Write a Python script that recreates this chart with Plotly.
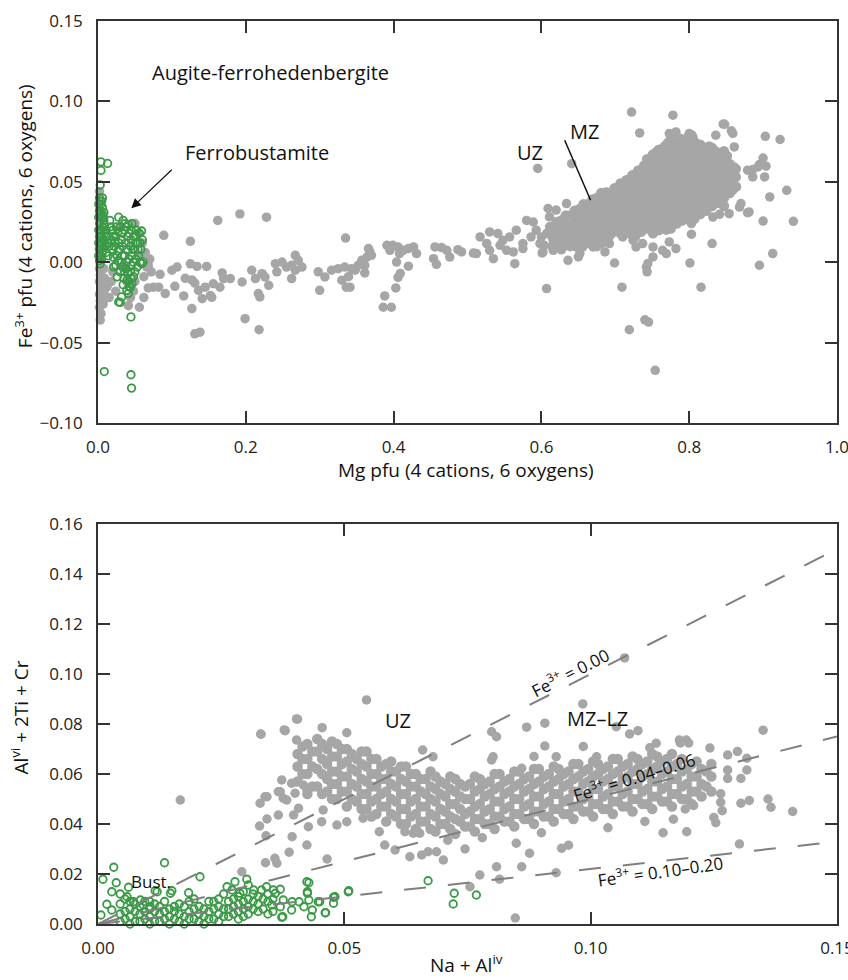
import plotly.graph_objects as go

# ---------------- DATA ----------------
# Top panel: Mg pfu vs Fe3+ pfu
top_grey_pts = [
    (0.002, 0.044), (0.003, 0.038), (0.002, 0.032), (0.004, 0.026), (0.002, 0.020), (0.003, 0.014),
    (0.002, 0.008), (0.004, 0.002), (0.002, -0.004), (0.003, -0.008), (0.002, -0.012), (0.004, -0.016),
    (0.002, -0.020), (0.003, -0.024), (0.002, -0.028), (0.004, -0.032), (0.003, -0.036), (0.008, -0.004),
    (0.009, -0.010), (0.010, -0.016), (0.012, -0.015), (0.008, -0.020), (0.007, -0.026), (0.006, 0.030),
    (0.007, 0.020), (0.008, 0.010), (0.0076, -0.0195), (0.012, -0.0153),
    (0.020, -0.006), (0.018, -0.012), (0.024, -0.018), (0.015, -0.022), (0.030, 0.022), (0.035, -0.002),
    (0.050, 0.024), (0.055, 0.018), (0.060, 0.012), (0.064, 0.006), (0.066, -0.003), (0.062, -0.009),
    (0.068, -0.002), (0.050, -0.012), (0.044, -0.022), (0.041, -0.027), (0.039, -0.012), (0.048, -0.018),
    (0.058, 0.004), (0.070, 0.002), (0.072, -0.006), (0.068, -0.016), (0.062, -0.022), (0.056, -0.028),
    (0.084, -0.0075), (0.089, 0.0167), (0.100, -0.005), (0.107, -0.003), (0.075, -0.0155), (0.082, -0.0155),
    (0.091, -0.0195), (0.104, -0.015), (0.116, -0.021), (0.118, -0.010), (0.127, -0.011), (0.131, -0.013),
    (0.125, 0.013), (0.125, -0.001), (0.134, -0.0026), (0.147, -0.0026), (0.136, -0.0175), (0.141, -0.0227),
    (0.152, -0.0207), (0.154, -0.0218), (0.145, -0.0155), (0.156, -0.0134), (0.162, 0.026), (0.168, -0.0067),
    (0.170, -0.0102), (0.179, -0.0102), (0.165, -0.0155), (0.127, -0.0288), (0.131, -0.0445), (0.138, -0.0435),
    (0.192, 0.030), (0.199, -0.0351), (0.218, -0.042), (0.195, -0.0123), (0.208, -0.005), (0.213, -0.0102),
    (0.222, -0.0071), (0.226, -0.0092), (0.231, -0.0144), (0.217, -0.0195), (0.219, -0.0216), (0.228, 0.028),
    (0.240, -0.0009), (0.249, 0.0001), (0.255, -0.003), (0.262, -0.0019), (0.267, 0.0043), (0.271, 0.0012),
    (0.242, -0.006), (0.262, -0.0102), (0.267, -0.005), (0.276, -0.003), (0.298, -0.006), (0.307, -0.0092),
    (0.316, -0.005), (0.325, -0.004), (0.334, -0.003), (0.343, -0.004), (0.339, -0.009), (0.330, -0.0112),
    (0.300, -0.0175), (0.336, -0.0155), (0.335, 0.015),
    (0.341, -0.0155), (0.348, -0.005), (0.352, -0.002), (0.357, 0.0012), (0.361, -0.002), (0.364, 0.0032),
    (0.368, 0.0064), (0.370, 0.0043), (0.366, 0.0085), (0.361, -0.0067), (0.391, 0.0105), (0.395, 0.0074),
    (0.399, 0.0105), (0.406, 0.0095), (0.413, 0.0074), (0.420, 0.0085), (0.427, 0.0095), (0.431, 0.0054),
    (0.408, 0.0054), (0.404, 0.0001), (0.420, -0.0025), (0.409, -0.007), (0.406, -0.0095), (0.403, -0.016),
    (0.388, -0.021), (0.386, -0.028), (0.397, -0.028),
    (0.456, 0.0095), (0.465, 0.0091), (0.472, 0.0074), (0.476, 0.0032), (0.454, 0.0022), (0.458, -0.0013),
    (0.487, 0.0078), (0.492, 0.0064), (0.508, 0.0057), (0.512, 0.0054), (0.517, 0.0157), (0.530, 0.0188),
    (0.526, 0.0116), (0.530, 0.0074), (0.535, 0.0022), (0.541, 0.0178), (0.544, 0.0105), (0.548, 0.0136),
    (0.557, 0.0157), (0.566, 0.0199), (0.553, 0.0074), (0.562, 0.0064), (0.564, -0.0009), (0.575, 0.0116),
    (0.580, 0.026), (0.589, 0.025), (0.586, 0.0157), (0.575, 0.0085),
    (0.593, 0.0199), (0.600, 0.0157), (0.607, 0.0178), (0.611, 0.022), (0.616, 0.0136), (0.620, 0.0199),
    (0.625, 0.0157), (0.629, 0.024), (0.634, 0.0178), (0.638, 0.0116), (0.611, 0.0282), (0.609, 0.0334),
    (0.620, 0.0324), (0.634, 0.0365), (0.602, 0.0064), (0.616, 0.0074), (0.629, 0.0095), (0.636, 0.0012),
    (0.652, 0.0054), (0.656, 0.0199), (0.652, 0.0292), (0.663, 0.0282), (0.674, 0.024), (0.683, 0.0303),
    (0.688, 0.0365), (0.670, 0.0386), (0.674, 0.0157), (0.686, 0.0064), (0.607, -0.0164), (0.598, 0.0116),
    (0.604, 0.0105), (0.618, 0.0168), (0.622, 0.0116), (0.631, 0.0136), (0.643, 0.0147), (0.647, 0.0199),
    (0.661, 0.024), (0.665, 0.0324), (0.656, 0.0136), (0.665, 0.0178), (0.679, 0.0199), (0.683, 0.0136),
    (0.690, 0.022), (0.647, 0.0095), (0.656, 0.0095), (0.670, 0.0095), (0.681, 0.0116), (0.595, 0.0583),
    (0.641, 0.0613), (0.601, 0.0058), (0.650, 0.0033), (0.688, 0.0437), (0.699, 0.0427), (0.719, 0.0489),
    (0.731, 0.054), (0.755, 0.0673), (0.760, 0.0634),
    (0.751, 0.0095), (0.764, 0.0074), (0.773, 0.0126), (0.782, 0.0085), (0.769, 0.0054), (0.751, 0.0033),
    (0.744, -0.0008), (0.737, 0.0116), (0.728, 0.0095), (0.769, 0.0199), (0.778, 0.024), (0.787, 0.026),
    (0.803, 0.024), (0.724, 0.0199), (0.710, 0.0157), (0.724, 0.0136), (0.692, 0.0116),
    (0.722, 0.0934), (0.778, 0.0914), (0.733, 0.0804), (0.846, 0.0859), (0.857, 0.0817), (0.859, 0.0801),
    (0.903, 0.0783), (0.923, 0.0763), (0.932, 0.0447), (0.941, 0.0254), (0.909, 0.0406), (0.900, 0.0256),
    (0.913, 0.0054), (0.895, -0.0019), (0.816, -0.0155), (0.801, -0.0005), (0.831, 0.0116), (0.803, 0.0174),
    (0.709, -0.0155), (0.719, -0.042), (0.740, -0.0358), (0.745, -0.0372), (0.754, -0.0672), (0.699, -0.0005),
    (0.743, -0.006), (0.742, -0.003), (0.879, 0.0572), (0.886, 0.053), (0.893, 0.0592), (0.902, 0.053),
    (0.864, 0.0468), (0.859, 0.0447), (0.854, 0.0302), (0.832, 0.0281), (0.841, 0.0298), (0.868, 0.0343),
    (0.879, 0.0308), (0.845, 0.0385), (0.886, 0.0576), (0.895, 0.0607), (0.900, 0.0648), (0.904, 0.0597),
    (0.861, 0.0717), (0.861, 0.0592), (0.870, 0.0365), (0.881, 0.0313),
    (0.755, 0.0685), (0.782, 0.0747), (0.800, 0.080), (0.805, 0.0778), (0.823, 0.0695), (0.836, 0.079),
    (0.848, 0.0858), (0.773, 0.080), (0.782, 0.081),
]

# dense MZ cloud, read column by column: (Mg, [Fe3+ values])
top_grey_cloud = [
    (0.615, [0.010, 0.016, 0.022]),
    (0.621, [0.013, 0.019, 0.025]),
    (0.627, [0.008, 0.014, 0.020, 0.026]),
    (0.633, [0.011, 0.017, 0.023, 0.029]),
    (0.639, [0.010, 0.017, 0.023, 0.029]),
    (0.645, [0.013, 0.020, 0.026, 0.032]),
    (0.651, [0.009, 0.015, 0.021, 0.027, 0.033]),
    (0.657, [0.012, 0.018, 0.024, 0.030, 0.036]),
    (0.663, [0.012, 0.018, 0.024, 0.030, 0.036]),
    (0.669, [0.015, 0.021, 0.027, 0.033, 0.039]),
    (0.675, [0.010, 0.016, 0.022, 0.028, 0.034, 0.040]),
    (0.681, [0.013, 0.019, 0.025, 0.031, 0.037, 0.043]),
    (0.687, [0.013, 0.019, 0.025, 0.031, 0.037, 0.042]),
    (0.691, [0.016, 0.022, 0.028, 0.034, 0.040]),
    (0.695, [0.018, 0.024, 0.031, 0.037, 0.043]),
    (0.699, [0.021, 0.027, 0.034, 0.040, 0.046]),
    (0.703, [0.021, 0.027, 0.034, 0.040, 0.046]),
    (0.707, [0.018, 0.024, 0.031, 0.037, 0.043, 0.049]),
    (0.711, [0.017, 0.023, 0.029, 0.036, 0.042, 0.048]),
    (0.715, [0.020, 0.026, 0.032, 0.039, 0.045, 0.051]),
    (0.719, [0.020, 0.026, 0.032, 0.039, 0.045, 0.051]),
    (0.723, [0.017, 0.023, 0.029, 0.036, 0.042, 0.048, 0.054]),
    (0.727, [0.016, 0.022, 0.028, 0.035, 0.041, 0.047, 0.054]),
    (0.731, [0.019, 0.025, 0.032, 0.038, 0.044, 0.051, 0.057]),
    (0.735, [0.019, 0.025, 0.031, 0.038, 0.044, 0.050, 0.057]),
    (0.739, [0.022, 0.028, 0.034, 0.041, 0.047, 0.053, 0.060]),
    (0.743, [0.021, 0.027, 0.033, 0.040, 0.046, 0.052, 0.059, 0.064]),
    (0.747, [0.024, 0.030, 0.036, 0.043, 0.049, 0.056, 0.062]),
    (0.751, [0.018, 0.024, 0.030, 0.036, 0.043, 0.049, 0.055, 0.062, 0.067]),
    (0.755, [0.021, 0.027, 0.033, 0.040, 0.046, 0.052, 0.058, 0.065]),
    (0.759, [0.020, 0.026, 0.033, 0.039, 0.045, 0.052, 0.058, 0.064, 0.070]),
    (0.763, [0.023, 0.029, 0.036, 0.042, 0.048, 0.055, 0.061, 0.067]),
    (0.767, [0.023, 0.029, 0.035, 0.041, 0.048, 0.054, 0.060, 0.066, 0.072]),
    (0.771, [0.026, 0.032, 0.038, 0.045, 0.051, 0.057, 0.063, 0.069, 0.074]),
    (0.775, [0.021, 0.027, 0.033, 0.040, 0.046, 0.052, 0.058, 0.065, 0.071, 0.076]),
    (0.779, [0.024, 0.030, 0.037, 0.043, 0.049, 0.055, 0.062, 0.068, 0.074]),
    (0.783, [0.024, 0.030, 0.036, 0.043, 0.049, 0.055, 0.061, 0.067, 0.073]),
    (0.787, [0.027, 0.033, 0.040, 0.046, 0.052, 0.058, 0.064, 0.071, 0.077]),
    (0.791, [0.026, 0.032, 0.038, 0.045, 0.051, 0.057, 0.063, 0.070, 0.076]),
    (0.795, [0.029, 0.035, 0.042, 0.048, 0.054, 0.060, 0.067, 0.073]),
    (0.799, [0.028, 0.034, 0.041, 0.047, 0.053, 0.059, 0.066, 0.072, 0.078]),
    (0.803, [0.031, 0.037, 0.043, 0.049, 0.055, 0.061, 0.067, 0.073, 0.079]),
    (0.807, [0.027, 0.033, 0.039, 0.045, 0.052, 0.058, 0.064, 0.070, 0.075]),
    (0.811, [0.030, 0.036, 0.042, 0.048, 0.055, 0.061, 0.067, 0.072]),
    (0.815, [0.030, 0.036, 0.042, 0.049, 0.055, 0.061, 0.067, 0.073]),
    (0.819, [0.033, 0.039, 0.045, 0.052, 0.058, 0.064, 0.070]),
    (0.823, [0.032, 0.038, 0.044, 0.050, 0.057, 0.063, 0.069]),
    (0.827, [0.035, 0.041, 0.047, 0.053, 0.060, 0.066, 0.072]),
    (0.831, [0.035, 0.041, 0.047, 0.054, 0.060, 0.066, 0.071]),
    (0.835, [0.038, 0.044, 0.050, 0.057, 0.063, 0.069]),
    (0.839, [0.037, 0.043, 0.050, 0.056, 0.062, 0.068]),
    (0.843, [0.040, 0.046, 0.053, 0.059, 0.065]),
    (0.847, [0.035, 0.040, 0.046, 0.052, 0.059, 0.064, 0.069]),
    (0.851, [0.043, 0.049, 0.055, 0.061, 0.066]),
    (0.855, [0.043, 0.049, 0.055, 0.061]),
    (0.859, [0.046, 0.052, 0.057]),
    (0.863, [0.047, 0.053, 0.058]),
]

top_green_pts = [
    (0.004, 0.0624), (0.013, 0.0614), (0.004, 0.0571), (0.003, 0.048),
    (0.002, 0.040), (0.004, 0.036), (0.002, 0.032), (0.005, 0.028), (0.002, 0.024), (0.004, 0.020),
    (0.002, 0.016), (0.005, 0.012), (0.002, 0.008), (0.004, 0.004), (0.002, 0.001), (0.006, 0.034),
    (0.006, 0.022), (0.007, 0.014), (0.006, 0.006), (0.008, 0.026), (0.009, 0.018), (0.010, 0.010),
    (0.003, -0.001), (0.006, 0.040), (0.008, 0.031),
    (0.001, 0.036), (0.001, 0.028), (0.001, 0.020), (0.001, 0.012), (0.001, 0.004), (0.003, 0.030),
    (0.003, 0.018), (0.003, 0.010), (0.005, 0.038), (0.005, 0.016), (0.005, 0.002), (0.007, 0.029),
    (0.007, 0.009), (0.009, 0.023), (0.011, 0.020), (0.013, 0.012), (0.011, 0.006),
    (0.012, 0.016), (0.015, 0.010), (0.017, 0.022), (0.014, 0.004), (0.018, 0.014), (0.016, 0.026),
    (0.020, 0.020), (0.024, 0.016), (0.022, 0.010), (0.026, 0.004), (0.024, -0.002), (0.030, 0.022),
    (0.032, 0.014), (0.030, 0.008), (0.032, 0.000), (0.030, -0.006), (0.036, 0.020), (0.038, 0.012),
    (0.036, 0.004), (0.038, -0.004), (0.035, -0.010), (0.042, 0.018), (0.044, 0.010), (0.042, 0.002),
    (0.044, -0.006), (0.048, 0.016), (0.050, 0.008), (0.048, 0.000), (0.050, -0.006), (0.046, 0.024),
    (0.054, 0.012), (0.055, 0.004), (0.053, -0.003), (0.056, 0.018), (0.034, 0.026), (0.028, 0.012),
    (0.040, 0.016), (0.046, 0.004), (0.052, 0.020), (0.058, 0.008), (0.060, 0.014),
    (0.023, 0.013), (0.027, 0.019), (0.027, 0.007), (0.027, 0.001), (0.033, 0.018), (0.033, 0.010),
    (0.033, 0.004), (0.033, -0.003), (0.039, 0.022), (0.039, 0.008), (0.039, 0.000), (0.041, -0.007),
    (0.045, 0.014), (0.045, 0.020), (0.047, 0.008), (0.045, -0.002), (0.051, 0.012), (0.051, 0.002),
    (0.051, 0.016), (0.054, 0.008), (0.057, 0.012), (0.057, 0.000), (0.036, -0.006), (0.042, -0.012),
    (0.048, -0.009), (0.037, 0.024), (0.025, 0.022), (0.021, 0.016), (0.019, 0.008), (0.021, 0.003),
    (0.028, 0.028), (0.041, 0.0235), (0.059, 0.0194), (0.061, 0.0001), (0.059, -0.0009),
    (0.046, -0.0133), (0.044, -0.0154), (0.039, -0.0175), (0.032, -0.0216), (0.028, -0.0247),
    (0.030, -0.025), (0.041, -0.0195), (0.042, -0.0154), (0.039, -0.0112), (0.026, -0.0091),
    (0.021, -0.0029), (0.034, -0.014), (0.045, -0.010),
    (0.0085, -0.068), (0.0446, -0.070), (0.0454, -0.0783), (0.0446, -0.034),
]

# Bottom panel: Na + Al(iv) vs Al(vi) + 2Ti + Cr
bot_grey_pts = [
    (0.0167, 0.0496), (0.0331, 0.0759), (0.0378, 0.0776), (0.0403, 0.082), (0.0403, 0.0736),
    (0.0329, 0.0483), (0.0343, 0.0509), (0.0366, 0.0529), (0.0376, 0.0503), (0.0393, 0.0563),
    (0.0400, 0.0523), (0.0366, 0.0436), (0.0397, 0.0436), (0.0341, 0.0353), (0.0394, 0.0349),
    (0.0388, 0.0287), (0.0359, 0.0263), (0.0363, 0.0243), (0.0292, 0.0209), (0.0545, 0.0896),
    (0.0405, 0.0819), (0.0380, 0.0773), (0.0330, 0.0760), (0.0373, 0.0576), (0.0417, 0.0556),
    (0.0370, 0.0529), (0.0339, 0.0509), (0.0383, 0.0496), (0.0424, 0.0536), (0.0407, 0.0463),
    (0.0427, 0.0389), (0.0454, 0.0409), (0.0485, 0.0396), (0.0505, 0.0409), (0.0457, 0.0456),
    (0.0424, 0.0316), (0.0465, 0.026), (0.0538, 0.0423), (0.0571, 0.0369), (0.0582, 0.0316),
    (0.0603, 0.0296), (0.0623, 0.0369), (0.0633, 0.0269), (0.0657, 0.0276), (0.0670, 0.0289),
    (0.0687, 0.0289), (0.0701, 0.0256), (0.0640, 0.0363), (0.0653, 0.0363), (0.0659, 0.0696),
    (0.0680, 0.0669), (0.0984, 0.088), (0.0907, 0.0803), (0.0870, 0.0787), (0.0799, 0.0769),
    (0.0809, 0.0749), (0.1052, 0.0789), (0.1079, 0.076), (0.1096, 0.0773), (0.0907, 0.0712),
    (0.0799, 0.0656), (0.0802, 0.0669), (0.0860, 0.0623), (0.0930, 0.0669), (0.1012, 0.0669),
    (0.1133, 0.0723), (0.1180, 0.0736), (0.1194, 0.0736), (0.0809, 0.0229), (0.0815, 0.0179),
    (0.0860, 0.0229), (0.0930, 0.0205), (0.0876, 0.0283), (0.0849, 0.0323), (0.0941, 0.0303),
    (0.0775, 0.0196), (0.0755, 0.0149), (0.0847, 0.0024), (0.1069, 0.1064), (0.135, 0.0775),
    (0.1182, 0.0724), (0.1199, 0.0724), (0.1242, 0.0704), (0.1278, 0.0676), (0.1298, 0.069),
    (0.1317, 0.0663), (0.1317, 0.0616), (0.1305, 0.0582), (0.1278, 0.0582), (0.1278, 0.0616),
    (0.1305, 0.0483), (0.1322, 0.0494), (0.136, 0.05), (0.1366, 0.0467), (0.141, 0.045),
    (0.1264, 0.0521), (0.1264, 0.0487), (0.1267, 0.0453), (0.125, 0.0426), (0.1254, 0.0405),
    (0.1209, 0.0474), (0.1192, 0.046), (0.1168, 0.0419), (0.1147, 0.0365), (0.1195, 0.0369),
    (0.1302, 0.032), (0.0328, 0.0392), (0.0343, 0.042), (0.034, 0.0245), (0.0505, 0.0765),
    (0.0455, 0.0785), (0.0885, 0.067), (0.0985, 0.071), (0.112, 0.0705), (0.071, 0.0335),
    (0.078, 0.0345), (0.090, 0.0365), (0.1035, 0.0385), (0.111, 0.041), (0.0955, 0.0315),
    (0.0745, 0.030),
]

bot_grey_cloud = [
    (0.0405, [0.057, 0.063, 0.068]),
    (0.0415, [0.060, 0.066, 0.071]),
    (0.0425, [0.052, 0.060, 0.066, 0.072]),
    (0.0435, [0.055, 0.063, 0.069]),
    (0.0445, [0.055, 0.062, 0.069, 0.074]),
    (0.0455, [0.052, 0.060, 0.066, 0.072]),
    (0.0465, [0.053, 0.058, 0.064, 0.070]),
    (0.0475, [0.050, 0.056, 0.061, 0.067, 0.073]),
    (0.0485, [0.050, 0.056, 0.061, 0.067, 0.072]),
    (0.0495, [0.053, 0.059, 0.064, 0.070]),
    (0.0505, [0.047, 0.053, 0.059, 0.065, 0.070]),
    (0.0515, [0.050, 0.056, 0.062, 0.068]),
    (0.0525, [0.049, 0.055, 0.061, 0.066]),
    (0.0535, [0.046, 0.052, 0.058, 0.064, 0.069]),
    (0.0545, [0.046, 0.052, 0.057, 0.063, 0.069]),
    (0.0555, [0.043, 0.049, 0.055, 0.060, 0.066]),
    (0.0565, [0.044, 0.050, 0.055, 0.060, 0.066]),
    (0.0575, [0.047, 0.052, 0.058, 0.063]),
    (0.0585, [0.041, 0.047, 0.053, 0.058, 0.064]),
    (0.0595, [0.044, 0.050, 0.056, 0.061, 0.065]),
    (0.0605, [0.043, 0.049, 0.055, 0.061]),
    (0.0615, [0.040, 0.046, 0.052, 0.058, 0.063]),
    (0.0625, [0.040, 0.046, 0.052, 0.057, 0.063]),
    (0.0635, [0.043, 0.049, 0.055, 0.060]),
    (0.0645, [0.038, 0.044, 0.050, 0.055, 0.060]),
    (0.0655, [0.041, 0.047, 0.053, 0.058]),
    (0.0665, [0.041, 0.047, 0.052, 0.058]),
    (0.0675, [0.038, 0.044, 0.050, 0.055, 0.061]),
    (0.0685, [0.037, 0.043, 0.049, 0.054, 0.059]),
    (0.0695, [0.040, 0.046, 0.052, 0.057]),
    (0.0705, [0.040, 0.045, 0.051, 0.056]),
    (0.0715, [0.038, 0.043, 0.048, 0.054, 0.059]),
    (0.0725, [0.036, 0.042, 0.048, 0.053, 0.058]),
    (0.0735, [0.041, 0.046, 0.051, 0.056]),
    (0.0745, [0.039, 0.044, 0.050, 0.055]),
    (0.0755, [0.039, 0.045, 0.050, 0.056]),
    (0.0765, [0.037, 0.042, 0.047, 0.053, 0.059]),
    (0.0775, [0.042, 0.048, 0.054, 0.058]),
    (0.0785, [0.040, 0.045, 0.051, 0.056]),
    (0.0795, [0.040, 0.046, 0.052, 0.057]),
    (0.0805, [0.038, 0.043, 0.049, 0.054, 0.060]),
    (0.0815, [0.043, 0.049, 0.055, 0.060]),
    (0.0825, [0.041, 0.046, 0.052, 0.057]),
    (0.0835, [0.041, 0.047, 0.053, 0.058]),
    (0.0845, [0.039, 0.044, 0.050, 0.055, 0.061]),
    (0.0855, [0.044, 0.050, 0.056, 0.061]),
    (0.0865, [0.042, 0.047, 0.053, 0.058]),
    (0.0875, [0.042, 0.048, 0.054, 0.059]),
    (0.0885, [0.040, 0.045, 0.051, 0.056, 0.062]),
    (0.0895, [0.045, 0.051, 0.057, 0.062]),
    (0.0905, [0.043, 0.048, 0.054, 0.059]),
    (0.0915, [0.043, 0.049, 0.055, 0.060]),
    (0.0925, [0.041, 0.046, 0.052, 0.057, 0.063]),
    (0.0935, [0.046, 0.052, 0.058, 0.062]),
    (0.0945, [0.044, 0.049, 0.055, 0.060]),
    (0.0955, [0.044, 0.050, 0.056, 0.061]),
    (0.0965, [0.042, 0.047, 0.053, 0.058, 0.064]),
    (0.0975, [0.047, 0.053, 0.059, 0.064]),
    (0.0985, [0.045, 0.050, 0.056, 0.061]),
    (0.0995, [0.045, 0.051, 0.057, 0.062]),
    (0.1005, [0.043, 0.048, 0.054, 0.059, 0.065]),
    (0.1015, [0.048, 0.054, 0.060, 0.064]),
    (0.1025, [0.046, 0.051, 0.057, 0.062]),
    (0.1035, [0.046, 0.052, 0.058, 0.063]),
    (0.1045, [0.044, 0.049, 0.055, 0.060, 0.066]),
    (0.1055, [0.049, 0.055, 0.061, 0.066]),
    (0.1065, [0.047, 0.052, 0.058, 0.063]),
    (0.1075, [0.047, 0.053, 0.059, 0.064]),
    (0.1085, [0.045, 0.050, 0.056, 0.061, 0.067]),
    (0.1095, [0.050, 0.056, 0.062, 0.066]),
    (0.1105, [0.048, 0.053, 0.059, 0.064]),
    (0.1115, [0.048, 0.054, 0.060, 0.065]),
    (0.1125, [0.046, 0.051, 0.057, 0.062, 0.068]),
    (0.1135, [0.051, 0.057, 0.063, 0.067]),
    (0.1145, [0.049, 0.054, 0.060, 0.065]),
    (0.1155, [0.049, 0.055, 0.061, 0.066]),
    (0.1165, [0.047, 0.052, 0.058, 0.063, 0.068]),
    (0.1175, [0.052, 0.058, 0.064]),
    (0.1185, [0.050, 0.055, 0.061, 0.066]),
    (0.1195, [0.050, 0.056, 0.062]),
    (0.1205, [0.048, 0.053, 0.059, 0.064]),
    (0.1215, [0.053, 0.059, 0.065]),
    (0.1225, [0.051, 0.056, 0.062]),
    (0.1235, [0.055, 0.061]),
    (0.1245, [0.053, 0.059, 0.064]),
]

bot_green_pts = [
    (0.0006, 0.0036), (0.001, 0.0179), (0.0037, 0.0165), (0.0032, 0.0227), (0.0135, 0.0245),
    (0.0207, 0.0189), (0.0028, 0.0129), (0.0045, 0.012), (0.0018, 0.0079), (0.0028, 0.0056),
    (0.0059, 0.0109), (0.0072, 0.0089), (0.0086, 0.0096), (0.0092, 0.0076), (0.0106, 0.0069),
    (0.012, 0.0129), (0.0147, 0.0123), (0.015, 0.0133), (0.0184, 0.0125), (0.0062, 0.0147),
    (0.0116, 0.0133),
    (0.0262, 0.0149), (0.0278, 0.0169), (0.0302, 0.0179), (0.0305, 0.0156), (0.0272, 0.0136),
    (0.0288, 0.0123), (0.0316, 0.0136), (0.0332, 0.0136), (0.0342, 0.0149), (0.0356, 0.0136),
    (0.037, 0.0139), (0.036, 0.0123), (0.0353, 0.0076), (0.037, 0.0069), (0.0376, 0.0096),
    (0.0394, 0.0089), (0.0408, 0.0089), (0.0425, 0.0129), (0.0428, 0.0165), (0.0428, 0.0096),
    (0.0418, 0.0069), (0.0435, 0.0056), (0.045, 0.0089), (0.0461, 0.0045), (0.0481, 0.0109),
    (0.0508, 0.0129), (0.0373, 0.0027), (0.0393, 0.0056), (0.067, 0.0173), (0.0723, 0.0123),
    (0.0721, 0.008), (0.0768, 0.0116), (0.0509, 0.0133), (0.0478, 0.0107), (0.0478, 0.0083),
    (0.0462, 0.0045), (0.0433, 0.0029), (0.0424, 0.0169), (0.0425, 0.0123), (0.0447, 0.0089),
    (0.0375, 0.0029),
]

bot_green_cloud = [
    (0.0045, [0.001, 0.004, 0.008]),
    (0.0055, [0.002, 0.005, 0.010]),
    (0.0065, [0.000, 0.003, 0.006, 0.009]),
    (0.0075, [0.001, 0.005, 0.008]),
    (0.0085, [0.001, 0.004, 0.007]),
    (0.0095, [0.002, 0.005, 0.009]),
    (0.0105, [0.000, 0.003, 0.006, 0.009]),
    (0.0115, [0.001, 0.005, 0.008]),
    (0.0125, [0.001, 0.004, 0.007]),
    (0.0135, [0.002, 0.005, 0.009]),
    (0.0145, [0.000, 0.003, 0.006]),
    (0.0155, [0.002, 0.005, 0.007]),
    (0.0165, [0.001, 0.004, 0.008]),
    (0.0175, [0.000, 0.003, 0.007]),
    (0.0185, [0.002, 0.005, 0.009]),
    (0.0195, [0.002, 0.006, 0.010]),
    (0.0205, [0.001, 0.004, 0.007]),
    (0.0215, [0.000, 0.003, 0.006]),
    (0.0225, [0.002, 0.005, 0.009]),
    (0.0235, [0.002, 0.006, 0.009]),
    (0.0245, [0.001, 0.004, 0.007, 0.010]),
    (0.0255, [0.003, 0.006, 0.012]),
    (0.0265, [0.003, 0.006, 0.009]),
    (0.0275, [0.004, 0.007, 0.010]),
    (0.0285, [0.002, 0.005, 0.008, 0.011]),
    (0.0295, [0.003, 0.006, 0.009, 0.013]),
    (0.0305, [0.004, 0.007, 0.010]),
    (0.0315, [0.006, 0.009, 0.012]),
    (0.0325, [0.005, 0.008, 0.011]),
    (0.0335, [0.006, 0.010]),
    (0.0345, [0.004, 0.009, 0.012]),
    (0.0355, [0.005, 0.010]),
]

# Fe3+ reference lines (bottom panel), end points at x = 0.15
ref_line_x = [0.0, 0.15]
ref_line_end_y = [0.15, 0.075, 0.033]

top_xticks = [0.0, 0.2, 0.4, 0.6, 0.8, 1.0]
top_yticks = [-0.10, -0.05, 0.00, 0.05, 0.10, 0.15]
bot_xticks = [0.00, 0.05, 0.10, 0.15]
bot_yticks = [0.00, 0.02, 0.04, 0.06, 0.08, 0.10, 0.12, 0.14, 0.16]


def flatten(points, cloud):
    xs = [p[0] for p in points]
    ys = [p[1] for p in points]
    for x, yl in cloud:
        for y in yl:
            xs.append(x)
            ys.append(y)
    return xs, ys


tgx, tgy = flatten(top_grey_pts, [])
tcx, tcy = flatten([], top_grey_cloud)
tnx, tny = flatten(top_green_pts, [])
bgx, bgy = flatten(bot_grey_pts, [])
bcx, bcy = flatten([], bot_grey_cloud)
bnx, bny = flatten(bot_green_pts, bot_green_cloud)

GREY = "#a6a6a6"
GREEN = "#3a9a46"
FONT = "Open Sans"
AX = "#333333"

grey_mk = dict(size=9.5, color=GREY, line=dict(width=0))
cloud_mk = dict(size=10.5, color=GREY, line=dict(width=0))
green_mk = dict(size=7.5, color=GREEN, symbol="circle-open", line=dict(width=1.8, color=GREEN))

fig = go.Figure()
fig.add_trace(go.Scatter(x=tgx, y=tgy, mode="markers", xaxis="x", yaxis="y", marker=grey_mk, cliponaxis=False))
fig.add_trace(go.Scatter(x=tcx, y=tcy, mode="markers", xaxis="x", yaxis="y", marker=cloud_mk, cliponaxis=False))
fig.add_trace(go.Scatter(x=tnx, y=tny, mode="markers", xaxis="x", yaxis="y", marker=green_mk, cliponaxis=False))
fig.add_trace(go.Scatter(x=bgx, y=bgy, mode="markers", xaxis="x2", yaxis="y2", marker=grey_mk, cliponaxis=False))
fig.add_trace(go.Scatter(x=bcx, y=bcy, mode="markers", xaxis="x2", yaxis="y2", marker=cloud_mk, cliponaxis=False))
fig.add_trace(go.Scatter(x=bnx, y=bny, mode="markers", xaxis="x2", yaxis="y2", marker=green_mk, cliponaxis=False))
for ye in ref_line_end_y:
    fig.add_trace(go.Scatter(x=ref_line_x, y=[0.0, ye], mode="lines", xaxis="x2", yaxis="y2",
                             line=dict(color="#7f7f7f", width=2, dash="22px,22px")))

axis_common = dict(showgrid=False, zeroline=False, showline=True, linecolor=AX, linewidth=1.5,
                   mirror="ticks", ticks="inside", ticklen=12, tickwidth=1.5, tickcolor=AX,
                   automargin=False, ticklabeloverflow="allow",
                   tickfont=dict(family=FONT, size=17, color="#222"))

fig.update_layout(
    width=848, height=980,
    margin=dict(l=98, r=11, t=21, b=56, autoexpand=False),
    paper_bgcolor="white", plot_bgcolor="white",
    showlegend=False,
    xaxis=dict(domain=[0, 1], range=[0, 1.0], tickvals=top_xticks, tickformat=".1f",
               anchor="y", ticklabelstandoff=8, **axis_common),
    yaxis=dict(domain=[0.5548, 1.0], range=[-0.10, 0.15], tickvals=top_yticks, tickformat=".2f",
               anchor="x", ticklabelstandoff=10, **axis_common),
    xaxis2=dict(domain=[0, 1], range=[0, 0.15], tickvals=bot_xticks, tickformat=".2f",
                anchor="y2", ticklabelstandoff=8, **axis_common),
    yaxis2=dict(domain=[0.0, 0.443], range=[0, 0.16], tickvals=bot_yticks, tickformat=".2f",
                anchor="x2", ticklabelstandoff=10, **axis_common),
)

tf = dict(family=FONT, size=19, color="#111")
big = dict(family=FONT, size=20, color="#111")
lab = dict(family=FONT, size=17, color="#111")
C = dict(xanchor="center", yanchor="middle", showarrow=False)

annotations = [
    # axis titles
    dict(text="Mg pfu (4 cations, 6 oxygens)", xref="paper", yref="paper", x=0.498, y=0.5028, font=tf, **C),
    dict(text="Fe<sup>3+</sup> pfu (4 cations, 6 oxygens)", xref="paper", yref="paper", x=-0.1, y=0.784,
         textangle=-90, font=tf, **C),
    dict(text="Na + Al<sup>iv</sup>", xref="paper", yref="paper", x=0.498, y=-0.0445, font=tf, **C),
    dict(text="Al<sup>vi</sup> + 2Ti + Cr", xref="paper", yref="paper", x=-0.105, y=0.229,
         textangle=-90, font=tf, **C),
    # top panel labels
    dict(text="Augite-ferrohedenbergite", xref="x", yref="y", x=0.0704, y=0.1180,
         xanchor="left", yanchor="middle", showarrow=False, font=big),
    dict(text="Ferrobustamite", xref="x", yref="y", x=0.115, y=0.0683,
         xanchor="left", yanchor="middle", showarrow=False, font=big),
    dict(text="", xref="x", yref="y", x=0.045, y=0.0335, ax=42, ay=-40,
         showarrow=True, arrowhead=2, arrowsize=1.6, arrowwidth=1.2, arrowcolor="#111"),
    dict(text="UZ", xref="x", yref="y", x=0.584, y=0.0683, font=big, **C),
    dict(text="MZ", xref="x", yref="y", x=0.658, y=0.0814, font=big, **C),
    # bottom panel labels
    dict(text="UZ", xref="x2", yref="y2", x=0.0609, y=0.0812, font=big, **C),
    dict(text="MZ–LZ", xref="x2", yref="y2", x=0.1014, y=0.082, font=big, **C),
    dict(text="Bust.", xref="x2", yref="y2", x=0.0108, y=0.0172, font=lab, **C),
    dict(text="Fe<sup>3+</sup> = 0.00", xref="x2", yref="y2", x=0.0959, y=0.1008, textangle=-27,
         font=lab, **C),
    dict(text="Fe<sup>3+</sup> = 0.04–0.06", xref="x2", yref="y2", x=0.1087, y=0.0588, textangle=-17,
         font=lab, **C),
    dict(text="Fe<sup>3+</sup> = 0.10–0.20", xref="x2", yref="y2", x=0.114, y=0.0216, textangle=-8,
         font=lab, **C),
]
fig.update_layout(annotations=annotations)

# MZ leader line
mz_leader = [(0.6315, 0.0758), (0.6666, 0.0385)]
fig.add_shape(type="line", xref="x", yref="y", x0=mz_leader[0][0], y0=mz_leader[0][1],
              x1=mz_leader[1][0], y1=mz_leader[1][1], line=dict(color="#111", width=1.5))

fig.write_html("out.html")
